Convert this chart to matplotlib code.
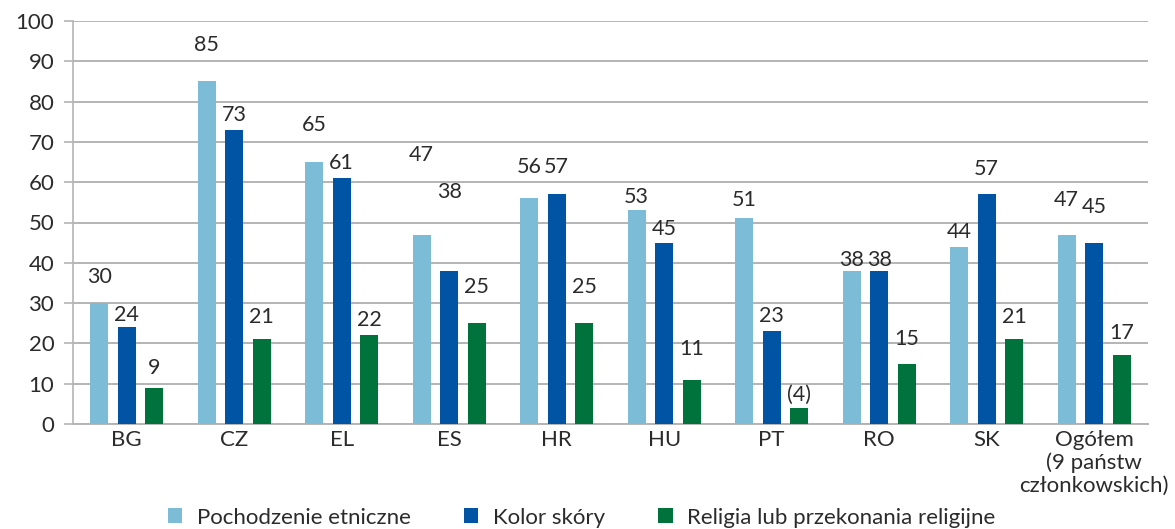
import numpy as np
import matplotlib.pyplot as plt

plt.rcParams['font.family'] = ['Lato', 'DejaVu Sans']

# Data
countries = ['BG', 'CZ', 'EL', 'ES', 'HR', 'HU', 'PT', 'RO', 'SK',
             'Ogółem\n(9 państw\nczłonkowskich)']
series_names = ['Pochodzenie etniczne', 'Kolor skóry', 'Religia lub przekonania religijne']
ethnic = [30, 85, 65, 47, 56, 53, 51, 38, 44, 47]
skin = [24, 73, 61, 38, 57, 45, 23, 38, 57, 45]
religion = [9, 21, 22, 25, 25, 11, 4, 15, 21, 17]
religion_labels = ['9', '21', '22', '25', '25', '11', '(4)', '15', '21', '17']

# where each value label sits (centre, in axis units), as in the original layout
label_y = [
    [36.5, 94.0, 74.2, 66.7, 63.8, 56.3, 55.6, 40.7, 47.7, 55.6],
    [27.0, 76.7, 64.8, 57.6, 63.8, 48.5, 26.8, 40.7, 63.3, 53.8],
    [13.9, 26.5, 25.9, 34.0, 34.0, 18.6, 7.2, 21.1, 26.5, 22.6],
]

colors = ['#7cbcd7', '#0054a3', '#00733d']
text_col = '#2b2b2b'
grid_col = '#b4b4b4'

fig = plt.figure(figsize=(11.75, 5.29), dpi=100)
ax = fig.add_axes([73 / 1175, 1 - 424 / 529, (1148 - 73) / 1175, (424 - 21) / 529])

x = np.arange(len(countries))
w = 0.167
step = 0.256
all_vals = [ethnic, skin, religion]
all_labels = [[str(v) for v in ethnic], [str(v) for v in skin], religion_labels]

for i, (vals, col, name) in enumerate(zip(all_vals, colors, series_names)):
    xs = x + (i - 1) * step
    ax.bar(xs, vals, width=w, color=col, label=name, zorder=3)
    for xi, lab, ly in zip(xs, all_labels[i], label_y[i]):
        ax.text(xi, ly, lab, ha='center', va='center', fontsize=15.5, color=text_col)

ax.set_xlim(-0.5, len(countries) - 0.5)
ax.set_ylim(0, 100)
ax.set_yticks(range(0, 101, 10))
ax.set_xticks(x)
ax.set_xticklabels(countries, fontsize=16, color=text_col, linespacing=1.18)
ax.tick_params(axis='x', length=0, pad=4)
ax.tick_params(axis='y', length=6.5, width=1.2, color=grid_col, pad=7,
               labelsize=16, labelcolor=text_col)
ax.yaxis.grid(True, color=grid_col, linewidth=1.4, zorder=0)
for s in ['top', 'right']:
    ax.spines[s].set_visible(False)
ax.spines['left'].set_color(grid_col)
ax.spines['left'].set_linewidth(1.2)
ax.spines['bottom'].set_color(grid_col)
ax.spines['bottom'].set_linewidth(1.4)

fig.legend(loc='lower center', bbox_to_anchor=(0.495, -0.035), ncol=3, frameon=False,
           fontsize=16, handlelength=0.65, handleheight=0.65, handletextpad=0.65,
           columnspacing=2.4, labelcolor=text_col)

fig.savefig('out.png', dpi=100)
